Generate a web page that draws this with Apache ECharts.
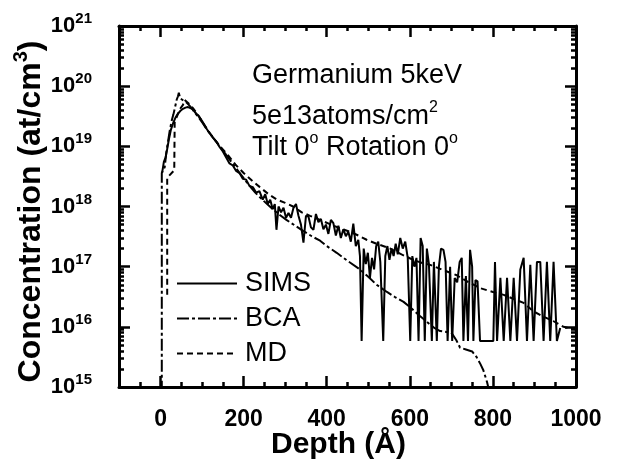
<!DOCTYPE html>
<html><head><meta charset="utf-8">
<script src="https://cdn.jsdelivr.net/npm/echarts@6/dist/echarts.min.js"></script>
<style>html,body{margin:0;padding:0;background:#fff}#c{width:618px;height:465px}</style>
</head><body><div id="c"></div>
<script>
// ---- data ----
const depthTicks = [0, 200, 400, 600, 800, 1000];
const concTicks = [1e15, 1e16, 1e17, 1e18, 1e19, 1e20, 1e21];
const seriesNames = ['SIMS', 'BCA', 'MD'];
const annotationLines = ['Germanium 5keV', '5e13atoms/cm{s|2}', 'Tilt 0{s|o} Rotation 0{s|o}'];

const simsData = [
  [4,3.7e18],[8,5.5e18],[12,6.5e18],[16,9e18],[20,1.3e19],[25,1.9e19],[30,2.4e19],[36,3.0e19],
  [42,3.5e19],[48,3.9e19],[54,4.2e19],[60,4.4e19],[66,4.5e19],[72,4.3e19],[78,4.1e19],[84,3.6e19],
  [90,3.3e19],[96,2.9e19],[102,2.5e19],[110,2.0e19],[118,1.65e19],[126,1.4e19],[134,1.2e19],[142,9.8e18],
  [150,8.2e18],[158,6.5e18],[166,5.2e18],[174,4.8e18],[182,3.9e18],[190,3.6e18],[198,2.9e18],[206,2.8e18],
  [214,2.2e18],[222,2.1e18],[230,1.7e18],[238,1.8e18],[246,1.3e18],[252,1.6e18],[258,1.1e18],[264,1.3e18],
  [270,9e17],[275,1.1e18],[279,4.1e17],[284,1.0e18],[290,8e17],[296,9.5e17],[302,6.5e17],[308,7.8e17],
  [314,6.5e17],[320,9.5e17],[326,1.1e18],[332,7e17],[338,5e17],[344,2.5e17],[350,7e17],[356,6.8e17],
  [362,4.5e17],[368,4.1e17],[374,7.5e17],[380,5.5e17],[386,6.2e17],[392,4.2e17],[398,5.0e17],[404,3.5e17],
  [410,6.0e17],[416,5.3e17],[422,3.3e17],[428,4.8e17],[434,3.0e17],[440,4.2e17],[446,3.2e17],[452,3.8e17],
  [458,2.6e17],[464,5.2e17],[470,2.2e17],[476,2.8e17],[480,1.5e17],[484,5.8e15],[489,2.0e17],[494,1.1e17],
  [499,1.7e17],[504,6.5e16],[509,1.4e17],[514,9e16],[519,2.2e17],[524,2.6e17],[529,1.2e17],[536,5.8e15],
  [541,1.5e17],[546,2.2e17],[551,1.3e17],[556,2.0e17],[561,1.5e17],[566,2.4e17],[571,1.6e17],[577,3.0e17],
  [583,2.0e17],[589,2.6e17],[595,1.4e17],[601,5.8e15],[606,1.5e17],[611,1.0e17],[616,1.4e17],[621,5.8e15],
  [626,3.0e17],[631,2.2e17],[636,5.8e15],[641,2.0e17],[646,1.1e17],[653,5.8e15],[658,1.2e17],[665,5.8e15],
  [670,1.0e17],[675,2.0e17],[681,1.9e17],[686,1.2e17],[691,5.8e15],[697,1.0e17],[702,5.8e15],[708,6.5e16],
  [714,5.5e16],[720,1.2e17],[725,1.4e17],[729,5.8e15],[735,7e16],[740,5.8e15],[745,1.9e17],[750,1.0e17],
  [753,5.8e15],[758,6e16],[763,5.7e16],[769,5.8e15],[801,5.8e15],[805,1.2e17],[810,5.8e15],[818,6.5e16],
  [826,5.8e15],[834,6.5e16],[842,5.8e15],[850,6.5e16],[858,5.8e15],[866,9e16],[874,1.4e17],[882,5.8e15],
  [890,1.07e17],[898,5.8e15],[906,1.2e17],[914,1.2e17],[922,5.8e15],[930,1.2e17],[938,5.8e15],[946,1.2e17],
  [954,5.8e15],[962,9.6e15]
];

const bcaData = [
  [3,8e14],[3,3.6e18],[7,3.8e18],[10,4.5e18],[14,8e18],[18,1.2e19],[22,1.8e19],[27,2.7e19],[31,3.4e19],
  [35,4.5e19],[39,6.0e19],[42,6.8e19],[44,7.8e19],[47,6.3e19],[51,6.0e19],[56,5.7e19],[62,5.4e19],
  [68,4.9e19],[75,4.3e19],[83,3.6e19],[92,3.0e19],[102,2.4e19],[114,1.8e19],[128,1.35e19],[143,1.0e19],
  [158,7.2e18],[175,5.0e18],[192,3.5e18],[210,2.4e18],[228,1.7e18],[245,1.3e18],[263,1.0e18],[283,7.6e17],
  [303,6.0e17],[324,4.8e17],[344,3.9e17],[364,3.2e17],[384,2.7e17],[400,2.2e17],[424,1.7e17],[450,1.25e17],
  [480,9e16],[500,6.8e16],[520,5.0e16],[545,3.8e16],[565,3.1e16],[585,2.6e16],[605,2.0e16],[625,1.5e16],
  [645,1.15e16],[660,9.5e15],[673,8.5e15],[700,8.0e15],[712,6.0e15],[721,4.5e15],[735,4.2e15],[750,3.9e15],
  [760,3.2e15],[770,2.4e15],[777,1.9e15],[786,1.2e15],[792,8e14]
];

const mdData = [
  [16,3.4e16],[16,3.0e18],[20,3.2e18],[33,4.0e18],[34,2.5e19],[40,3.2e19],[47,4.2e19],[54,4.9e19],
  [58,5.9e19],[63,5.5e19],[70,5.0e19],[78,4.3e19],[88,3.5e19],[100,2.6e19],[115,1.8e19],[130,1.3e19],
  [143,1.0e19],[160,7.5e18],[180,5.0e18],[200,3.6e18],[220,2.7e18],[239,2.1e18],[260,1.6e18],[280,1.3e18],
  [300,1.15e18],[319,1.0e18],[340,8.0e17],[360,7.0e17],[384,6.0e17],[410,5.0e17],[430,4.4e17],[456,3.8e17],
  [476,3.3e17],[496,2.8e17],[520,2.4e17],[553,2.0e17],[580,1.6e17],[608,1.3e17],[630,1.15e17],[649,1.07e17],
  [680,8.8e16],[713,7.2e16],[740,5.6e16],[769,4.4e16],[800,3.8e16],[826,3.4e16],[850,2.9e16],[874,2.5e16],
  [898,1.8e16],[920,1.5e16],[945,1.25e16],[970,1.0e16],[1000,9e15]
];

// ---- styling / layout ----
const FONT = '"Liberation Sans", Arial, sans-serif';
const minorDepth = [];
for (let d = -50; d < 1000; d += 50) if (d % 200 !== 0) minorDepth.push(d);
const minorConc = [];
for (let e = 15; e < 21; e++) for (let k = 2; k <= 9; k++) minorConc.push(k * Math.pow(10, e));
// tiny nudge toward the inside so floating-point log10 of the end decades stays within the axis extent
const concTickPos = concTicks.map((v, i) => v * (i === 0 ? 1 + 1e-9 : 1 - 1e-9));

const tickLine = { color: '#000', width: 2.5 };
const frameLine = { color: '#000', width: 3 };

function xAx(pos, major) {
  const a = {
    type: 'value', min: -100, max: 1000, position: pos,
    splitLine: { show: false },
    axisLine: { show: major, onZero: false, lineStyle: frameLine },
    axisTick: { inside: true, length: major ? 11 : 5, lineStyle: tickLine, customValues: major ? depthTicks : minorDepth },
    axisLabel: { show: false }
  };
  if (major && pos === 'bottom') {
    a.axisLabel = { show: true, customValues: depthTicks, formatter: v => String(v), fontSize: 23, fontWeight: 'bold', color: '#000', fontFamily: FONT, margin: 21 };
    a.name = 'Depth (Å)';
    a.nameLocation = 'middle';
    a.nameGap = 43;
    a.nameMoveOverlap = false;
    a.nameTextStyle = { fontSize: 30, fontWeight: 'bold', color: '#000', fontFamily: FONT, padding: [0, 18, 0, 0] };
  }
  return a;
}
function yAx(pos, major) {
  const a = {
    type: 'log', logBase: 10, min: 1e15, max: 1e21, position: pos,
    splitLine: { show: false },
    axisLine: { show: major, onZero: false, lineStyle: frameLine },
    axisTick: { inside: true, length: major ? 11 : 5, lineStyle: tickLine, customValues: major ? concTickPos : minorConc },
    axisLabel: { show: false }
  };
  if (major && pos === 'left') {
    a.axisLabel = {
      show: true, customValues: concTickPos, margin: 27,
      formatter: v => '{b|10}{s|' + Math.round(Math.log10(v)) + '}',
      rich: {
        b: { fontSize: 22, fontWeight: 'bold', color: '#000', fontFamily: FONT, lineHeight: 29 },
        s: { fontSize: 15, fontWeight: 'bold', color: '#000', fontFamily: FONT, verticalAlign: 'top', lineHeight: 15 }
      }
    };
    a.name = 'Concentration (at/cm{s|3})';
    a.nameLocation = 'middle';
    a.nameGap = 68;
    a.nameMoveOverlap = false;
    a.nameTextStyle = {
      fontSize: 32, fontWeight: 'bold', color: '#000', fontFamily: FONT, lineHeight: 40, padding: [0, 10, 0, 0],
      rich: { s: { fontSize: 20, fontWeight: 'bold', color: '#000', fontFamily: FONT, verticalAlign: 'top', lineHeight: 20 } }
    };
  }
  return a;
}

const supRich = { s: { fontSize: 16, verticalAlign: 'top', lineHeight: 16, fontFamily: FONT } };
const annTops = [59, 100, 131];
const graphic = annotationLines.map((t, i) => ({
  type: 'text', left: 252, top: annTops[i], silent: true,
  style: { text: t, fontSize: 27, fontFamily: FONT, fill: '#000', lineHeight: 34, rich: supRich }
}));

const chart = echarts.init(document.getElementById('c'), null, { renderer: 'canvas' });
chart.setOption({
  animation: false,
  backgroundColor: '#fff',
  grid: { left: 119, right: 42, top: 26, bottom: 78, containLabel: false, outerBoundsMode: 'none' },
  xAxis: [xAx('bottom', true), xAx('bottom', false), xAx('top', true), xAx('top', false)],
  yAxis: [yAx('left', true), yAx('left', false), yAx('right', true), yAx('right', false)],
  legend: {
    orient: 'vertical', left: 171, top: 265, itemWidth: 60, itemHeight: 14, itemGap: 8,
    data: seriesNames,
    itemStyle: { opacity: 0 },
    textStyle: { fontSize: 27, color: '#000', fontFamily: FONT, padding: [0, 0, 0, 3] }
  },
  graphic: graphic,
  series: [
    { name: seriesNames[0], type: 'line', data: simsData, symbol: 'none', lineStyle: { color: '#000', width: 2 }, itemStyle: { color: '#000' } },
    { name: seriesNames[1], type: 'line', data: bcaData, symbol: 'none', lineStyle: { color: '#000', width: 2, type: [12, 3, 3, 3] }, itemStyle: { color: '#000' } },
    { name: seriesNames[2], type: 'line', data: mdData, symbol: 'none', lineStyle: { color: '#000', width: 2, type: [6, 4] }, itemStyle: { color: '#000' } }
  ]
});
</script></body></html>
